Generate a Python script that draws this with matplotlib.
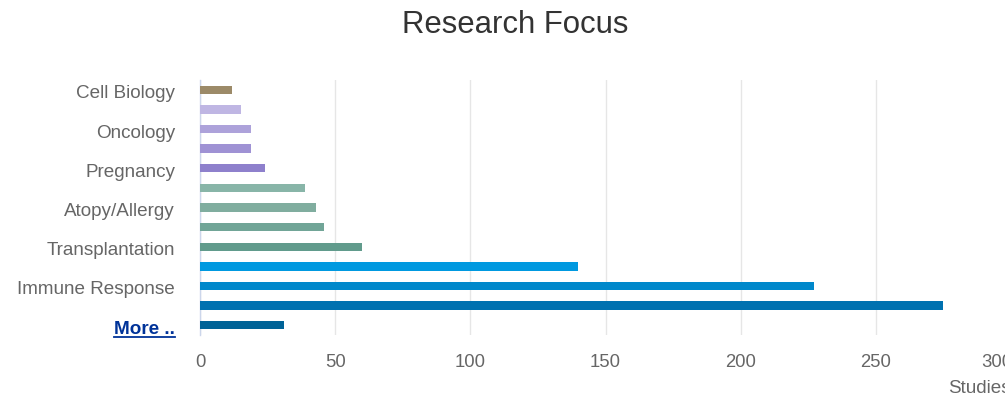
import matplotlib
matplotlib.use("Agg")
import matplotlib.pyplot as plt
from matplotlib.lines import Line2D
from matplotlib.transforms import ScaledTranslation

plt.rcParams["font.family"] = ["Liberation Sans", "DejaVu Sans"]

# Werte
categories = ["Cell Biology", "", "Oncology", "", "Pregnancy", "", "Atopy/Allergy", "",
              "Transplantation", "", "Immune Response", "", "More .."]
studies = [12, 15, 19, 19, 24, 39, 43, 46, 60, 140, 227, 275, 31]
colors = ["#9c8a68", "#bfb6e3", "#ada2da", "#9f92d4", "#8e80cc", "#88b5a8", "#80ad9f",
          "#71a597", "#619b8c", "#0099e0", "#0088cb", "#0071b0", "#006397"]
x_ticks = [0, 50, 100, 150, 200, 250, 300]

fig = plt.figure(figsize=(10.05, 3.98), dpi=100)
ax = fig.add_axes([200 / 1005, 1 - 335 / 398, 811 / 1005, 255 / 398])

pos = list(range(len(categories)))
ax.barh(pos, studies, height=0.43, color=colors, zorder=3)

ax.set_xlim(0, 300)
ax.set_ylim(len(categories) - 0.5, -0.5)
ax.set_xticks(x_ticks)
ax.set_xticklabels([str(t) for t in x_ticks], fontsize=13.3, color="#666666")
ax.tick_params(axis="x", length=0, pad=14)
ax.grid(axis="x", color="#e6e6e6", linewidth=1, zorder=0)
# letzte Beschriftung etwas nach innen geschoben wie im Original
last = ax.get_xticklabels()[-1]
last.set_transform(last.get_transform() + ScaledTranslation(-0.14, 0, fig.dpi_scale_trans))

down = ScaledTranslation(0, -0.02, fig.dpi_scale_trans)
ax.set_yticks(pos)
ax.set_yticklabels(categories[:-1] + [""], fontsize=13.6, color="#666666")
ax.tick_params(axis="y", length=0, pad=18)
for lbl in ax.get_yticklabels():
    lbl.set_va("center_baseline")
    lbl.set_transform(lbl.get_transform() + down)

for s in ["top", "right", "bottom"]:
    ax.spines[s].set_visible(False)
ax.spines["left"].set_color("#ccd6eb")
ax.spines["left"].set_linewidth(1)

# "More .." als Link gestaltet
more = ax.text(-25 / 2.705, pos[-1], "More ..", ha="right", va="center_baseline",
               fontsize=13.6, fontweight="bold", color="#003399",
               transform=ax.transData + down)
fig.canvas.draw()
bb = more.get_window_extent(fig.canvas.get_renderer())
inv = fig.transFigure.inverted()
(x0, y0), (x1, _) = inv.transform([(bb.x0, bb.y0 + 1), (bb.x1, bb.y0)])
fig.add_artist(Line2D([x0, x1], [y0, y0], color="#003399", linewidth=1.3))

ax.text(1.0, -0.21, "Studies", transform=ax.transAxes, ha="right", va="center",
        fontsize=13.6, color="#666666")

fig.text(515 / 1005, 1 - 25 / 398, "Research Focus", ha="center", va="center",
         fontsize=22.4, color="#333333")

plt.savefig("out.png", dpi=100)
